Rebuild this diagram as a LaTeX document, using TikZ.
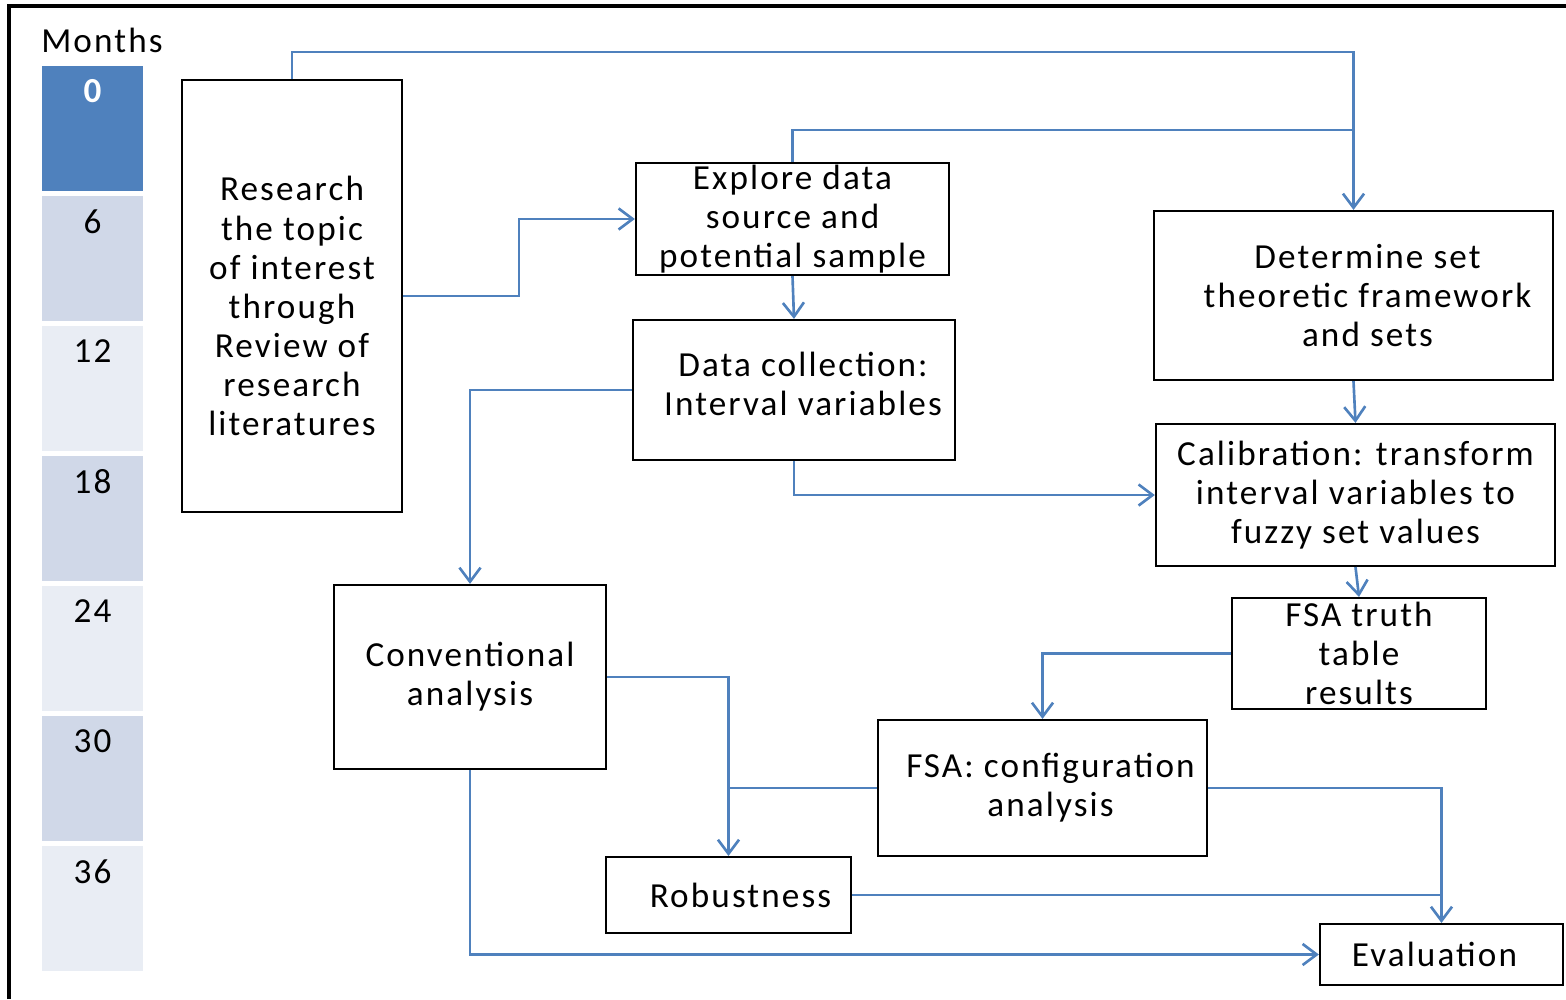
\documentclass[tikz,border=0pt]{standalone}
\usepackage{fontspec}
\setmainfont{Carlito}[LetterSpace=6]
\usepackage{tikz}
\usetikzlibrary{arrows.meta}
\definecolor{lineblue}{HTML}{4F81BD}
\definecolor{cellmid}{HTML}{D0D8E8}
\definecolor{celllight}{HTML}{E9EDF4}
\begin{document}
\begin{tikzpicture}[x=0.01cm,y=-0.01cm,
    box/.style={draw,line width=0.6pt,inner sep=0pt,align=center,font=\fontsize{10}{11.1}\selectfont},
    txt/.style={inner sep=0pt,align=center,font=\fontsize{10}{11.1}\selectfont},
    link/.style={draw=lineblue,line width=0.75pt},
    arr/.style={link,-{Straight Barb[length=4pt,width=6pt]}},
    cell/.style={inner sep=0pt,minimum width=1.01cm,minimum height=1.25cm},
    num/.style={font=\fontsize{10}{11.1}\selectfont}]
    \useasboundingbox (0,0) rectangle (1566,999);
    \draw[line width=0.9pt] (9,999)--(9,6)--(1566,6);
    \node[num] (months) at (102,40) {Months};
    \foreach \c [count=\i from 0] in {lineblue,cellmid,celllight,cellmid,celllight,cellmid,celllight}
        \node[cell,fill=\c] (m\i) at (92.5,128.5+130*\i) {};
    \node[num,text=white,font=\fontsize{10}{11.1}\selectfont\bfseries] at ([yshift=-0.26cm]m0.north) {0};
    \foreach \m [count=\i] in {6,12,18,24,30,36}
        \node[num] at ([yshift=-0.26cm]m\i.north) {\m};
    \node[box,minimum width=2.20cm,minimum height=4.32cm,
        label={[txt,yshift=-0.1cm]center:{Research\\the topic\\of interest\\through\\Review of\\research\\literatures}}]
        (research) at (292,296) {};
    \node[box,minimum width=3.13cm,minimum height=1.12cm] (explore) at (792.5,219)
        {Explore data\\source and\\potential sample};
    \node[box,minimum width=3.22cm,minimum height=1.40cm,
        label={[txt,xshift=0.09cm,yshift=0.06cm]center:{Data collection:\\Interval variables}}]
        (datacoll) at (794,390) {};
    \node[box,minimum width=3.99cm,minimum height=1.69cm,
        label={[txt,xshift=0.14cm]center:{Determine set\\theoretic framework\\and sets}}]
        (determine) at (1353.5,295.5) {};
    \node[box,minimum width=3.99cm,minimum height=1.42cm] (calib) at (1355.5,495)
        {Calibration: transform\\interval variables to\\fuzzy set values};
    \node[box,minimum width=2.54cm,minimum height=1.11cm] (truth) at (1359,653.5)
        {FSA truth\\table\\results};
    \node[box,minimum width=2.72cm,minimum height=1.84cm] (conv) at (470,677)
        {Conventional\\analysis};
    \node[box,minimum width=3.29cm,minimum height=1.36cm,
        label={[txt,xshift=0.08cm]center:{FSA: configuration\\analysis}}]
        (config) at (1042.5,788) {};
    \node[box,minimum width=2.45cm,minimum height=0.76cm] (robust) at (728.5,895)
        {\hspace{0.24cm}Robustness};
    \node[box,minimum width=2.43cm,minimum height=0.61cm] (eval) at (1441.5,954.5)
        {Evaluation\hspace{0.14cm}};
    \coordinate (midbus) at (1353.5,130);
    \draw[arr] (research.north) |- (midbus |- 0,52) -- (determine.north);
    \draw[link] (explore.north) |- (midbus);
    \draw[arr] (research.east) -- ++(116,0) |- (explore.west);
    \draw[arr] (explore.south) -- (datacoll.north);
    \draw[arr] (datacoll.west) -| (conv.north);
    \draw[arr] (datacoll.south) |- (calib.west);
    \draw[arr] (determine.south) -- (calib.north);
    \draw[arr] (calib.south) -- (truth.north);
    \draw[arr] (truth.west) -| (config.north);
    \draw[arr] (conv.east) -| (robust.north);
    \draw[link] (config.west) -- (robust.north |- config.west);
    \draw[arr] (config.east) -| (eval.north);
    \draw[link] (robust.east) -- (eval.north |- robust.east);
    \draw[arr] (conv.south) |- (eval.west);
\end{tikzpicture}
\end{document}
